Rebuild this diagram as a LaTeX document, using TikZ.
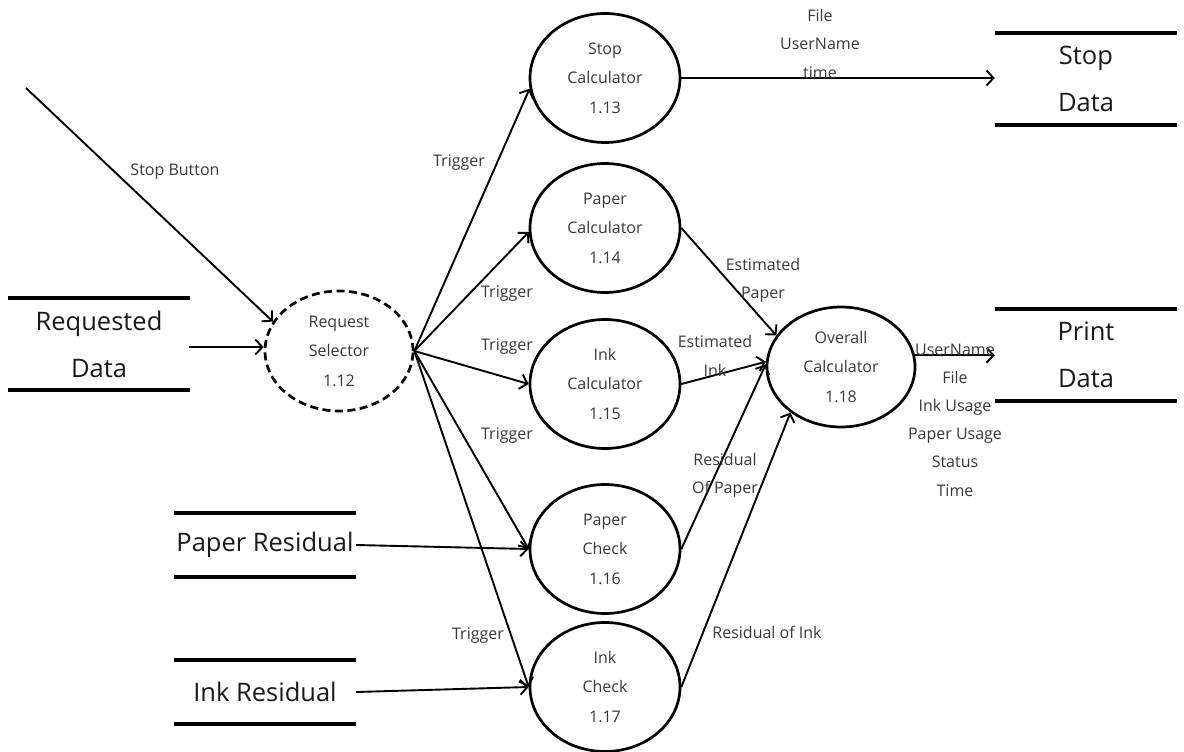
\documentclass[tikz,border=0pt]{standalone}
\usepackage{fontspec}
\setmainfont{Open Sans}
\usetikzlibrary{shapes.geometric,arrows.meta}

\definecolor{labelgray}{HTML}{383838}

\begin{document}
\begin{tikzpicture}[x=1pt,y=-1pt,
  proc/.style={ellipse, draw, line width=2.7pt, minimum width=150pt,
    minimum height=129pt, inner sep=0pt, align=center, text=labelgray,
    font=\fontsize{16}{29.5}\selectfont},
  store/.style={minimum width=182pt, minimum height=92pt, inner sep=0pt,
    align=center, text=black!90, font=\fontsize{25.5}{47}\selectfont},
  storeline/.style={line width=4.2pt},
  flow/.style={line width=1.9pt, -{Straight Barb[length=7pt,width=15pt,line width=1.9pt]}},
  lbl/.style={align=center, inner sep=0pt, text=labelgray,
    font=\fontsize{16}{28.2}\selectfont}]

\useasboundingbox (0,0) rectangle (1184,752);

% processes
\node[proc] (stopc) at (605,78)  {Stop\\Calculator\\1.13};
\node[proc] (papc)  at (605,228) {Paper\\Calculator\\1.14};
\node[proc] (inkc)  at (605,384) {Ink\\Calculator\\1.15};
\node[proc] (papk)  at (605,549) {Paper\\Check\\1.16};
\node[proc] (inkk)  at (605,687) {Ink\\Check\\1.17};
\node[proc, minimum width=148pt, minimum height=120pt] (ov) at (841,367) {Overall\\Calculator\\1.18};
\node[proc, minimum width=148pt, minimum height=120pt,
      dash pattern=on 8pt off 4.5pt] (sel) at (339,351) {Request\\Selector\\1.12};

% data stores
\node[store] (req)  at (99,344)   {Requested\\Data};
\node[store] (stpd) at (1086,79)  {Stop\\Data};
\node[store] (prd)  at (1086,355) {Print\\Data};
\node[store, minimum height=64pt] (papr) at (265,545) {Paper Residual};
\node[store, minimum height=64pt] (inkr) at (265,692) {Ink Residual};
\foreach \s in {req,stpd,prd,papr,inkr}{
  \draw[storeline] (\s.north west) -- (\s.north east);
  \draw[storeline] (\s.south west) -- (\s.south east);
}

% external trigger
\coordinate (btn) at (26,88);
\draw[flow] (btn) -- (sel.156);
\node[lbl] (lbtn) at (175,172) {Stop Button};

% inputs to the selector and the checks
\coordinate (reqout) at (189,347);
\draw[flow] (reqout) -- (sel.west |- reqout);
\draw[flow] (papr.east) -- (papk.west);
\draw[flow] (inkr.east) -- (inkk.west);

% triggers from the selector
\draw[flow] (sel.east) -- (stopc.188);
\draw[flow] (sel.east) -- (papc.183);
\draw[flow] (sel.east) -- (inkc.west);
\draw[flow] (sel.east) -- (papk.west);
\draw[flow] (sel.east) -- (inkk.west);
\node[lbl] (t1) at (459,163) {Trigger};
\node[lbl] (t2) at (507,294) {Trigger};
\node[lbl] (t3) at (507,347) {Trigger};
\node[lbl] (t4) at (507,436) {Trigger};
\node[lbl] (t5) at (478,636) {Trigger};

% results into the overall calculator
\draw[flow] (papc.east) -- (ov.154);
\draw[flow] (inkc.east) -- (ov.176);
\draw[flow] (papk.east) -- (ov.178);
\draw[flow] (inkk.east) -- (ov.222);
\node[lbl] (lep) at (763,280) {Estimated\\Paper};
\node[lbl] (lei) at (715,356) {Estimated\\Ink};
\node[lbl] (lrp) at (725,475) {Residual\\Of Paper};
\node[lbl] (lri) at (767,632) {Residual of Ink};

% outputs to the stores
\draw[flow] (stopc.east) -- (stopc.east -| stpd.west);
\node[lbl] (lstop) at (820,44) {File\\UserName\\time};
\draw[flow] (ov.9) -- (ov.9 -| prd.west);
\node[lbl] (lprint) at (955,420) {UserName\\File\\Ink Usage\\Paper Usage\\Status\\Time};

\end{tikzpicture}
\end{document}
